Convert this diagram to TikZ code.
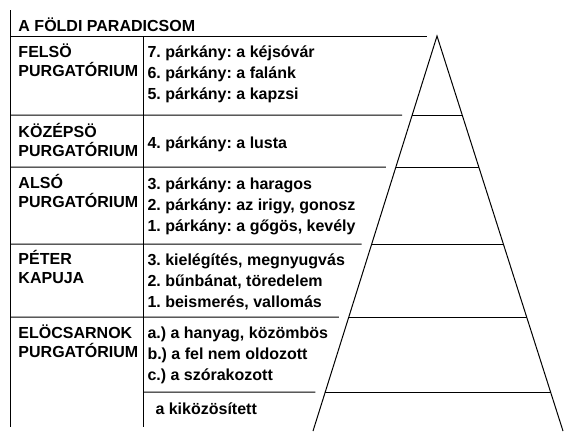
\documentclass[tikz,border=0pt]{standalone}
\usepackage{fontspec}
\setmainfont{Liberation Sans}
\usetikzlibrary{calc}
\frenchspacing

\tikzset{
  txt/.style={anchor=base west, inner sep=0pt, font=\fontsize{12}{14}\selectfont\bfseries},
}

\begin{document}
\begin{tikzpicture}[x=0.75pt, y=-0.75pt, line width=0.75pt]
  \useasboundingbox (0,0) rectangle (573,437);
  \coordinate (apex) at (437,36);
  \coordinate (bl) at (313,431);
  \coordinate (br) at (563,431);
  \draw (10,10) -- (10,427);
  \draw (143,36) -- (143,427);
  \draw (10,36) -- ([xshift=-7.5pt]apex);
  \draw (bl) -- (apex) -- (br);
  \foreach \y/\x in {115/10, 167/10, 244/10, 317/10, 392/143} {
    \coordinate (lv) at ($(apex)!{(\y-36)/395}!(bl)$);
    \coordinate (rv) at ($(apex)!{(\y-36)/395}!(br)$);
    \draw (\x,\y) -- ([xshift=-7.5pt]lv);
    \draw (lv) -- (rv);
  }

  \node [txt] (title) at (18,31) {A FÖLDI PARADICSOM};
  \node [txt] (felso) at (18,57) {FELSÖ};
  \node [txt] (felsop) at ($(felso.base west)+(0,19.5)$) {PURGATÓRIUM};
  \node [txt] (kozep) at (18,137) {KÖZÉPSÖ};
  \node [txt] (kozepp) at ($(kozep.base west)+(0,19.5)$) {PURGATÓRIUM};
  \node [txt] (also) at (18,188) {ALSÓ};
  \node [txt] (alsop) at ($(also.base west)+(0,19.5)$) {PURGATÓRIUM};
  \node [txt] (peter) at (18,264) {PÉTER};
  \node [txt] (kapu) at ($(peter.base west)+(0,19.5)$) {KAPUJA};
  \node [txt] (eloc) at (18,338) {ELÖCSARNOK};
  \node [txt] (elocp) at ($(eloc.base west)+(0,19.5)$) {PURGATÓRIUM};

  \node [txt] (p7) at (147,57) {7. párkány: a kéjsóvár};
  \node [txt] (p6) at ($(p7.base west)+(0,21)$) {6. párkány: a falánk};
  \node [txt] (p5) at ($(p6.base west)+(0,21)$) {5. párkány: a kapzsi};
  \node [txt] (p4) at (147,148) {4. párkány: a lusta};
  \node [txt] (p3) at (147,189) {3. párkány: a haragos};
  \node [txt] (p2) at ($(p3.base west)+(0,21)$) {2. párkány: az irigy, gonosz};
  \node [txt] (p1) at ($(p2.base west)+(0,21)$) {1. párkány: a gőgös, kevély};
  \node [txt] (k3) at (147,265) {3. kielégítés, megnyugvás};
  \node [txt] (k2) at ($(k3.base west)+(0,21)$) {2. bűnbánat, töredelem};
  \node [txt] (k1) at ($(k2.base west)+(0,21)$) {1. beismerés, vallomás};
  \node [txt] (va) at (147,338) {a.) a hanyag, közömbös};
  \node [txt] (vb) at ($(va.base west)+(0,21)$) {b.) a fel nem oldozott};
  \node [txt] (vc) at ($(vb.base west)+(0,21)$) {c.) a szórakozott};
  \node [txt] (kiko) at (155,414) {a kiközösített};
\end{tikzpicture}
\end{document}
